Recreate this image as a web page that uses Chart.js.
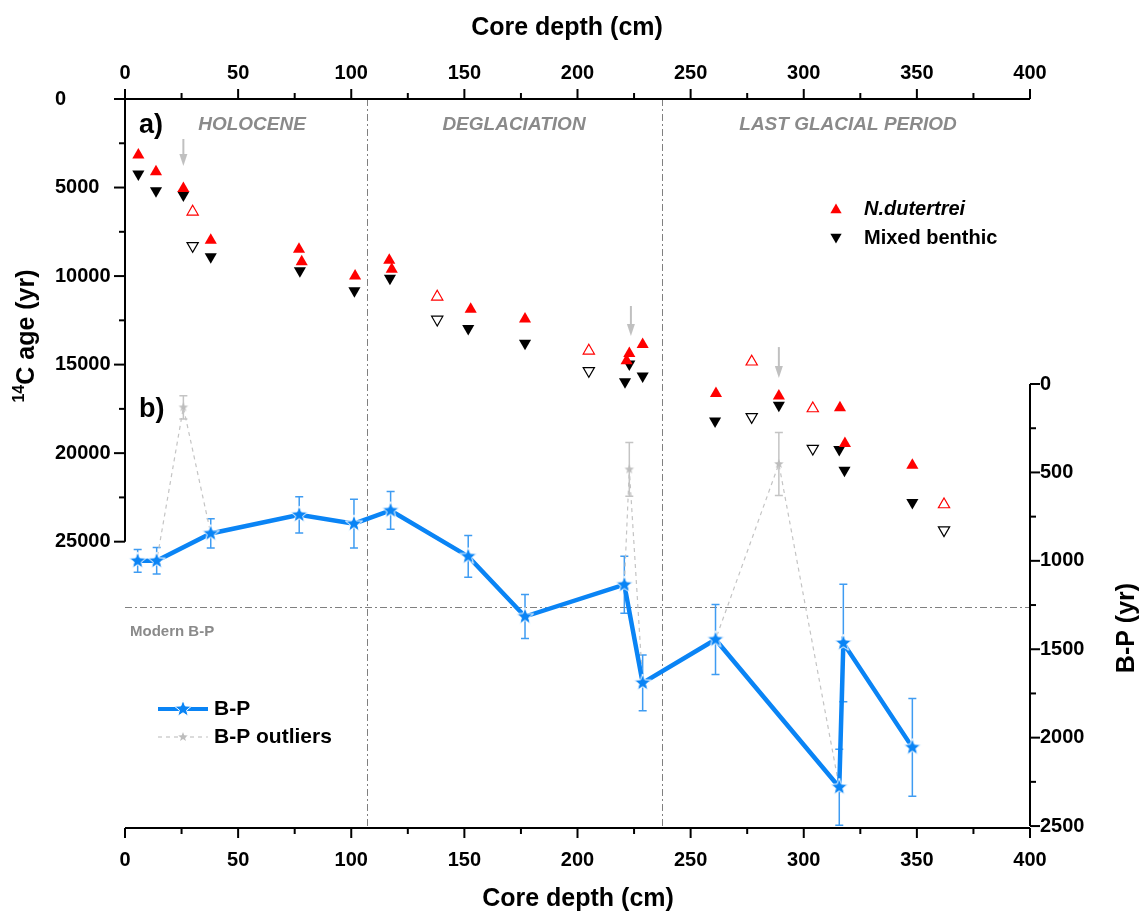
<!DOCTYPE html>
<html>
<head>
<meta charset="utf-8">
<script src="https://cdn.jsdelivr.net/npm/chart.js@4.4.1/dist/chart.umd.min.js"></script>
<style>
  html, body { margin: 0; padding: 0; background: #fff; }
  canvas { display: block; }
</style>
</head>
<body>
<canvas id="c" width="1144" height="912"></canvas>
<script>
/* Core radiocarbon ages (a) and benthic-planktonic age offsets (b) vs. core depth */

const FONT = "'Liberation Sans', Arial, sans-serif";
const BLUE = "#0a84f5";
const BLUE_ERR = "#3f9cf2";
const GREY = "#c4c4c4";
const DASHDOT = "#808080";

// N. dutertrei ages (filled = accepted, open = rejected)
const ndutDepth = [5.9, 13.7, 25.8, 37.9, 76.9, 78.1, 101.7, 116.8, 117.9, 152.8, 176.8, 221.7, 222.9, 228.8, 261.2, 289, 316, 318.2, 348];
const ndutAge = [3160, 4110, 5050, 7970, 8490, 9190, 10000, 9100, 9620, 11880, 12430, 14780, 14370, 13860, 16630, 16780, 17440, 19450, 20680];
const ndutOpenDepth = [29.9, 138, 205, 277, 304, 362];
const ndutOpenAge = [6370, 11170, 14220, 14840, 17480, 22900];

// mixed benthic ages
const benDepth = [5.9, 13.7, 25.8, 37.9, 77.3, 101.4, 117.1, 151.7, 176.8, 221, 222.9, 228.8, 260.8, 289, 315.7, 318, 348];
const benAge = [4240, 5180, 5420, 8910, 9700, 10830, 10130, 12960, 13800, 15970, 14970, 15650, 18180, 17290, 19790, 20960, 22790];
const benOpenDepth = [29.9, 138, 205, 277, 304, 362];
const benOpenAge = [8290, 12450, 15350, 17950, 19740, 24350];

// B-P offsets with 1-sigma errors
const bpDepth = [5.6, 14, 37.9, 77, 101.2, 117.4, 151.7, 176.8, 220.7, 228.8, 261, 315.7, 317.5, 348];
const bpAge = [1000, 1000, 845, 740, 790, 715, 975, 1315, 1135, 1690, 1445, 2280, 1465, 2055];
const bpErr = [64, 75, 83, 102, 138, 107, 118, 124, 161, 158, 198, 215, 332, 276];

// B-P outliers
const outDepth = [25.8, 222.9, 289];
const outAge = [132, 483, 452];
const outErr = [66, 152, 178];

// rejected-sample arrows (depth, age at tail, age at tip)
const arrowDepth = [25.8, 223.6, 289];
const arrowFrom = [2260, 11690, 14010];
const arrowTo = [3780, 13380, 15760];

// period boundaries (cm) and modern B-P (yr)
const periodBounds = [107, 237.5];
const modernBP = 1262;

const depthTicks = [0, 50, 100, 150, 200, 250, 300, 350, 400];
const ageTicks = [0, 5000, 10000, 15000, 20000, 25000];
const bpTicks = [0, 500, 1000, 1500, 2000, 2500];

const AGE_MAX = 41170;   // left axis only labelled to 25000, it stops there
const BP_MIN = -1612;    // right axis starts lower down
const BP_MAX = 2511;

function xy(xs, ys) { return xs.map((x, i) => ({ x, y: ys[i] })); }

// grey line runs through every B-P point including the outliers
const allBP = xy(bpDepth, bpAge).concat(xy(outDepth, outAge)).sort((a, b) => a.x - b.x);

function starImage(size, fill, stroke) {
  const c = document.createElement("canvas");
  c.width = c.height = size;
  const g = c.getContext("2d");
  const cx = size / 2, R = size / 2 - 1, r = R * 0.42;
  g.beginPath();
  for (let i = 0; i < 10; i++) {
    const rad = i % 2 ? r : R;
    const a = -Math.PI / 2 + i * Math.PI / 5;
    g.lineTo(cx + rad * Math.cos(a), cx + rad * Math.sin(a));
  }
  g.closePath();
  g.fillStyle = fill;
  g.fill();
  if (stroke) { g.strokeStyle = stroke; g.lineWidth = 1; g.stroke(); }
  return c;
}
const STAR_BLUE = starImage(20, BLUE, "#ffffff");
const STAR_GREY = starImage(12, "#bdbdbd");

function tri(ctx, x, y, r, down, fill, stroke) {
  const s = down ? -1 : 1;
  ctx.beginPath();
  ctx.moveTo(x, y - s * r);
  ctx.lineTo(x + 0.866 * r, y + s * r / 2);
  ctx.lineTo(x - 0.866 * r, y + s * r / 2);
  ctx.closePath();
  if (fill) { ctx.fillStyle = fill; ctx.fill(); }
  if (stroke) { ctx.strokeStyle = stroke; ctx.lineWidth = 1.2; ctx.stroke(); }
}

function errBars(ctx, xs, ys, es, color, sx, sy) {
  ctx.save();
  ctx.strokeStyle = color;
  ctx.lineWidth = 1.5;
  xs.forEach((d, i) => {
    const x = sx.getPixelForValue(d);
    const y1 = sy.getPixelForValue(ys[i] - es[i]);
    const y2 = sy.getPixelForValue(ys[i] + es[i]);
    ctx.beginPath();
    ctx.moveTo(x, y1); ctx.lineTo(x, y2);
    ctx.moveTo(x - 4, y1); ctx.lineTo(x + 4, y1);
    ctx.moveTo(x - 4, y2); ctx.lineTo(x + 4, y2);
    ctx.stroke();
  });
  ctx.restore();
}

/* background guides, error bars and arrows */
const underlay = {
  id: "underlay",
  beforeDatasetsDraw(chart) {
    const { ctx, chartArea: a, scales: s } = chart;
    ctx.save();
    ctx.strokeStyle = DASHDOT;
    ctx.lineWidth = 1;
    ctx.setLineDash([7, 3, 2, 3]);
    periodBounds.forEach(d => {
      const x = Math.round(s.x.getPixelForValue(d)) + 0.5;
      ctx.beginPath(); ctx.moveTo(x, a.top); ctx.lineTo(x, a.bottom); ctx.stroke();
    });
    const ym = Math.round(s.y2.getPixelForValue(modernBP)) + 0.5;
    ctx.beginPath(); ctx.moveTo(a.left, ym); ctx.lineTo(a.right, ym); ctx.stroke();
    ctx.restore();

    errBars(ctx, outDepth, outAge, outErr, GREY, s.x, s.y2);
    errBars(ctx, bpDepth, bpAge, bpErr, BLUE_ERR, s.x, s.y2);

    ctx.save();
    ctx.strokeStyle = "#c0c0c0";
    ctx.fillStyle = "#c0c0c0";
    ctx.lineWidth = 2;
    arrowDepth.forEach((d, i) => {
      const x = s.x.getPixelForValue(d);
      const y0 = s.y.getPixelForValue(arrowFrom[i]);
      const y1 = s.y.getPixelForValue(arrowTo[i]);
      ctx.beginPath(); ctx.moveTo(x, y0); ctx.lineTo(x, y1 - 10); ctx.stroke();
      ctx.beginPath(); ctx.moveTo(x - 4, y1 - 12); ctx.lineTo(x + 4, y1 - 12); ctx.lineTo(x, y1); ctx.closePath(); ctx.fill();
    });
    ctx.restore();
  }
};

/* axis lines, major/minor ticks, titles, annotations and legends */
const frame = {
  id: "frame",
  afterDraw(chart) {
    const { ctx, chartArea: a, scales: s } = chart;
    ctx.save();
    ctx.strokeStyle = "#000";
    ctx.lineWidth = 2;
    ctx.setLineDash([]);

    const hTicks = (yLine, dir) => {
      ctx.beginPath(); ctx.moveTo(a.left, yLine); ctx.lineTo(a.right, yLine); ctx.stroke();
      for (let v = 0; v <= 400; v += 25) {
        const x = s.x.getPixelForValue(v);
        const len = v % 50 === 0 ? 10 : 6;
        ctx.beginPath(); ctx.moveTo(x, yLine); ctx.lineTo(x, yLine + dir * len); ctx.stroke();
      }
    };
    hTicks(a.top, -1);
    hTicks(a.bottom, 1);

    // left: 14C age 0-25000
    const yTop = s.y.getPixelForValue(0), yBot = s.y.getPixelForValue(25000);
    ctx.beginPath(); ctx.moveTo(a.left, yTop); ctx.lineTo(a.left, yBot); ctx.stroke();
    for (let v = 0; v <= 25000; v += 2500) {
      const y = s.y.getPixelForValue(v);
      const len = v % 5000 === 0 ? 11 : 6;
      ctx.beginPath(); ctx.moveTo(a.left, y); ctx.lineTo(a.left - len, y); ctx.stroke();
    }
    // right: B-P 0-2500
    const rTop = s.y2.getPixelForValue(0), rBot = s.y2.getPixelForValue(2500);
    ctx.beginPath(); ctx.moveTo(a.right, rTop); ctx.lineTo(a.right, rBot); ctx.stroke();
    for (let v = 0; v <= 2500; v += 250) {
      const y = s.y2.getPixelForValue(v);
      const len = v % 500 === 0 ? 10 : 6;
      ctx.beginPath(); ctx.moveTo(a.right, y); ctx.lineTo(a.right + len, y); ctx.stroke();
    }

    // axis titles
    ctx.fillStyle = "#000";
    ctx.textBaseline = "middle";
    ctx.textAlign = "center";
    ctx.font = `bold 25px ${FONT}`;
    ctx.fillText("Core depth (cm)", 567, 28);
    ctx.fillText("Core depth (cm)", 578, 899);

    ctx.save();
    ctx.translate(27, 336);
    ctx.rotate(-Math.PI / 2);
    ctx.font = `bold 16px ${FONT}`;
    const wSup = ctx.measureText("14").width;
    ctx.font = `bold 25px ${FONT}`;
    const wMain = ctx.measureText("C age (yr)").width;
    const x0 = -(wSup + wMain) / 2;
    ctx.textAlign = "left";
    ctx.font = `bold 16px ${FONT}`;
    ctx.fillText("14", x0, -7);
    ctx.font = `bold 25px ${FONT}`;
    ctx.fillText("C age (yr)", x0 + wSup, 0);
    ctx.restore();

    ctx.save();
    ctx.translate(1127, 628);
    ctx.rotate(-Math.PI / 2);
    ctx.font = `bold 25px ${FONT}`;
    ctx.fillText("B-P (yr)", 0, 0);
    ctx.restore();

    // panel letters and periods
    ctx.textAlign = "left";
    ctx.font = `bold 27px ${FONT}`;
    ctx.fillText("a)", 139, 126);
    ctx.fillText("b)", 139, 410);

    ctx.fillStyle = "#8a8a8a";
    ctx.textAlign = "center";
    ctx.font = `italic bold 19px ${FONT}`;
    ctx.fillText("HOLOCENE", 252, 125);
    ctx.fillText("DEGLACIATION", 514, 125);
    ctx.fillText("LAST GLACIAL PERIOD", 848, 125);

    ctx.textAlign = "left";
    ctx.font = `bold 15px ${FONT}`;
    ctx.fillText("Modern B-P", 130, 632);

    // species legend
    ctx.fillStyle = "#000";
    tri(ctx, 836, 210, 6.5, false, "#ff0000");
    tri(ctx, 836, 237, 6.5, true, "#000");
    ctx.font = `italic bold 20px ${FONT}`;
    ctx.fillText("N.dutertrei", 864, 209);
    ctx.font = `bold 20px ${FONT}`;
    ctx.fillText("Mixed benthic", 864, 238);

    // B-P legend
    ctx.strokeStyle = BLUE;
    ctx.lineWidth = 4;
    ctx.beginPath(); ctx.moveTo(158, 709); ctx.lineTo(208, 709); ctx.stroke();
    ctx.drawImage(STAR_BLUE, 183 - 10, 709 - 10);
    ctx.strokeStyle = GREY;
    ctx.lineWidth = 1.2;
    ctx.setLineDash([4, 4]);
    ctx.beginPath(); ctx.moveTo(158, 737); ctx.lineTo(208, 737); ctx.stroke();
    ctx.setLineDash([]);
    ctx.drawImage(STAR_GREY, 183 - 6, 737 - 6);
    ctx.fillStyle = "#000";
    ctx.font = `bold 21px ${FONT}`;
    ctx.fillText("B-P", 214, 709);
    ctx.fillText("B-P outliers", 214, 737);
    ctx.restore();
  }
};

const tickFont = { family: FONT, size: 20, weight: "bold" };
const plain = v => String(v);
const fixTicks = list => scale => { scale.ticks = list.map(v => ({ value: v })); };

new Chart(document.getElementById("c"), {
  type: "scatter",
  data: {
    datasets: [
      {
        label: "B-P outliers", data: allBP, xAxisID: "x", yAxisID: "y2", order: 10,
        showLine: true, borderColor: GREY, borderWidth: 1.2, borderDash: [4, 4],
        pointStyle: STAR_GREY, pointRadius: 6
      },
      {
        label: "B-P", data: xy(bpDepth, bpAge), xAxisID: "x", yAxisID: "y2", order: 5,
        showLine: true, borderColor: BLUE, borderWidth: 4.5,
        pointStyle: STAR_BLUE, pointRadius: 10
      },
      {
        label: "N.dutertrei", data: xy(ndutDepth, ndutAge), xAxisID: "x", yAxisID: "y", order: 1,
        pointStyle: "triangle", pointRadius: 7, backgroundColor: "#ff0000", borderColor: "#ff0000", borderWidth: 0
      },
      {
        label: "N.dutertrei rejected", data: xy(ndutOpenDepth, ndutOpenAge), xAxisID: "x", yAxisID: "y", order: 1,
        pointStyle: "triangle", pointRadius: 6.5, backgroundColor: "#ffffff", borderColor: "#ff0000", borderWidth: 1.2
      },
      {
        label: "Mixed benthic", data: xy(benDepth, benAge), xAxisID: "x", yAxisID: "y", order: 2,
        pointStyle: "triangle", rotation: 180, pointRadius: 7, backgroundColor: "#000", borderColor: "#000", borderWidth: 0
      },
      {
        label: "Mixed benthic rejected", data: xy(benOpenDepth, benOpenAge), xAxisID: "x", yAxisID: "y", order: 2,
        pointStyle: "triangle", rotation: 180, pointRadius: 6.5, backgroundColor: "#ffffff", borderColor: "#000", borderWidth: 1.2
      }
    ]
  },
  options: {
    responsive: false,
    animation: false,
    layout: { padding: { left: 55, top: 0, right: 0, bottom: 0 } },
    plugins: { legend: { display: false }, tooltip: { enabled: false } },
    scales: {
      x: {
        type: "linear", position: "bottom", min: 0, max: 400,
        grid: { display: false, drawTicks: false }, border: { display: false },
        ticks: { padding: 20, color: "#000", font: tickFont, callback: plain },
        afterBuildTicks: fixTicks(depthTicks),
        afterFit: sc => { sc.height = 84; }
      },
      x2: {
        type: "linear", position: "top", min: 0, max: 400,
        grid: { display: false, drawTicks: false }, border: { display: false },
        ticks: { padding: 14, color: "#000", font: tickFont, callback: plain },
        afterBuildTicks: fixTicks(depthTicks),
        afterFit: sc => { sc.height = 99; }
      },
      y: {
        type: "linear", position: "left", reverse: true, min: 0, max: AGE_MAX,
        grid: { display: false, drawTicks: false }, border: { display: false },
        ticks: { padding: 0, crossAlign: "far", color: "#000", font: tickFont, callback: plain },
        afterBuildTicks: fixTicks(ageTicks),
        afterFit: sc => { sc.width = 70; }
      },
      y2: {
        type: "linear", position: "right", reverse: true, min: BP_MIN, max: BP_MAX,
        grid: { display: false, drawTicks: false }, border: { display: false },
        ticks: { padding: 10, color: "#000", font: tickFont, callback: plain },
        afterBuildTicks: fixTicks(bpTicks),
        afterFit: sc => { sc.width = 114; }
      }
    }
  },
  plugins: [underlay, frame]
});
</script>
</body>
</html>
